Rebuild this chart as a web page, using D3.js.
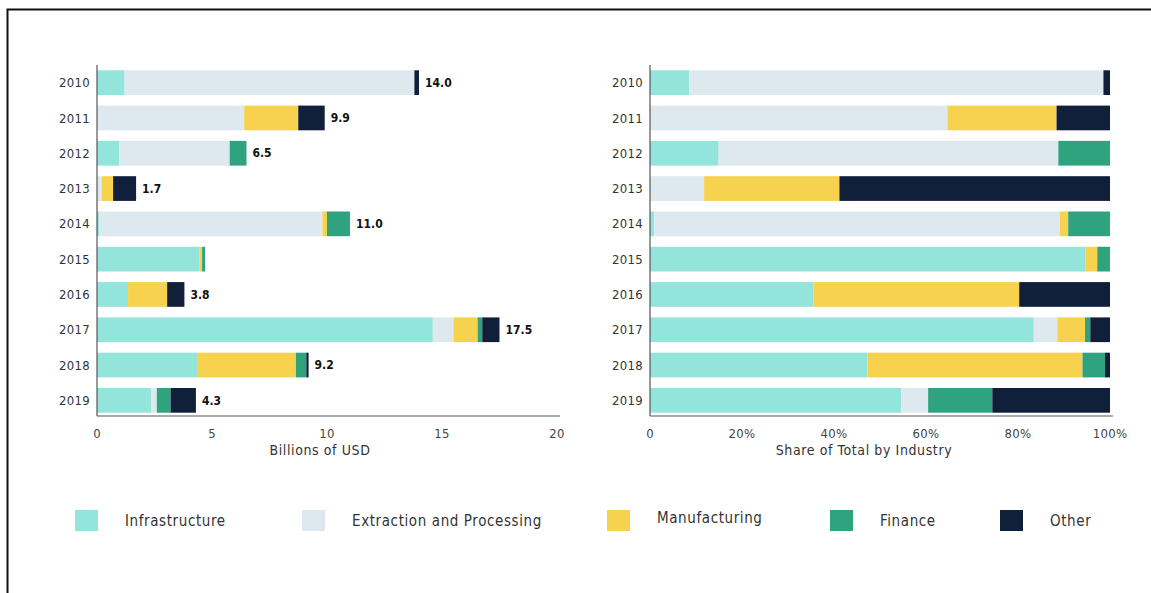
<!DOCTYPE html>
<html>
<head>
<meta charset="utf-8">
<script src="https://cdn.jsdelivr.net/npm/d3@7"></script>
<style>
  body { margin: 0; background: #fff; }
  svg { font-family: "DejaVu Sans Condensed", "DejaVu Sans", sans-serif; }
</style>
</head>
<body>
<svg width="1151" height="593"></svg>
<script>
const years = ['2010','2011','2012','2013','2014','2015','2016','2017','2018','2019'];
const industries = ['Infrastructure','Extraction and Processing','Manufacturing','Finance','Other'];
// billions of USD by industry
const infrastructure = [1.2, 0, 0.97, 0, 0.1, 4.45, 1.35, 14.6, 4.35, 2.35];
const extraction     = [12.6, 6.4, 4.8, 0.2, 9.7, 0, 0, 0.9, 0, 0.25];
const manufacturing  = [0, 2.35, 0, 0.5, 0.2, 0.12, 1.7, 1.05, 4.3, 0];
const finance        = [0, 0, 0.73, 0, 1.0, 0.13, 0, 0.2, 0.45, 0.6];
const other          = [0.2, 1.15, 0, 1.0, 0, 0, 0.75, 0.75, 0.1, 1.1];
const totalLabels    = ['14.0','9.9','6.5','1.7','11.0', null,'3.8','17.5','9.2','4.3'];
const amountTicks = [0, 5, 10, 15, 20];
const shareTicks = [0, 0.2, 0.4, 0.6, 0.8, 1];

const colors = ['#93e4da', '#dde9ee', '#f6d24e', '#2ea37e', '#10203b'];

const svg = d3.select('svg');

// frame
svg.append('path')
  .attr('d', 'M7.5,593 V9.5 H1151')
  .attr('fill', 'none')
  .attr('stroke', '#111')
  .attr('stroke-width', 2);

const series = [infrastructure, extraction, manufacturing, finance, other];
const rows = years.map((y, i) => {
  const r = { year: y };
  industries.forEach((k, j) => r[k] = series[j][i]);
  r.total = d3.sum(series, s => s[i]);
  return r;
});
const shareRows = rows.map(r => {
  const o = { year: r.year };
  industries.forEach(k => o[k] = r[k] / r.total);
  return o;
});

const stack = d3.stack().keys(industries);
const color = d3.scaleOrdinal().domain(industries).range(colors);

const y = d3.scaleBand().domain(years).range([65, 418]).paddingInner(0.3).paddingOuter(0.15);

function drawPanel(data, x, ticks, fmt, title, titleX, labels) {
  const g = svg.append('g');
  g.selectAll('g.layer')
    .data(stack(data))
    .join('g')
      .attr('class', 'layer')
      .attr('fill', d => color(d.key))
    .selectAll('rect')
    .data(d => d)
    .join('rect')
      .attr('x', d => x(d[0]))
      .attr('width', d => Math.max(0, x(d[1]) - x(d[0])))
      .attr('y', d => y(d.data.year))
      .attr('height', y.bandwidth());

  const x0 = x.range()[0];
  g.append('line')
    .attr('x1', x0).attr('x2', x0)
    .attr('y1', 65).attr('y2', 416)
    .attr('stroke', '#555').attr('stroke-width', 1.2);
  g.append('line')
    .attr('x1', x0).attr('x2', x.range()[1] + 3)
    .attr('y1', 416).attr('y2', 416)
    .attr('stroke', '#555').attr('stroke-width', 1.2);

  g.selectAll('text.year')
    .data(years)
    .join('text')
      .attr('class', 'year')
      .attr('x', x0 - 7)
      .attr('y', d => y(d) + y.bandwidth() / 2)
      .attr('dy', '0.35em')
      .attr('text-anchor', 'end')
      .attr('font-size', 13)
      .attr('letter-spacing', 0.3)
      .attr('fill', '#333')
      .text(d => d);

  g.selectAll('text.tick')
    .data(ticks)
    .join('text')
      .attr('class', 'tick')
      .attr('x', d => x(d))
      .attr('y', 438)
      .attr('text-anchor', 'middle')
      .attr('font-size', 13)
      .attr('letter-spacing', 0.3)
      .attr('fill', '#444')
      .text(fmt);

  g.append('text')
    .attr('x', titleX)
    .attr('y', 455)
    .attr('text-anchor', 'middle')
    .attr('font-size', 14)
    .attr('letter-spacing', 0.6)
    .attr('fill', '#333')
    .text(title);

  if (labels) {
    g.selectAll('text.total')
      .data(rows.filter((r, i) => labels[i] !== null))
      .join('text')
        .attr('class', 'total')
        .attr('x', d => x(d.total) + 6)
        .attr('y', d => y(d.year) + y.bandwidth() / 2)
        .attr('dy', '0.35em')
        .attr('font-size', 12)
        .attr('font-weight', 'bold')
        .attr('fill', '#111')
        .text(d => totalLabels[years.indexOf(d.year)]);
  }
}

const xAmount = d3.scaleLinear().domain([0, 20]).range([97, 557]);
const xShare = d3.scaleLinear().domain([0, 1]).range([650, 1110]);

drawPanel(rows, xAmount, amountTicks, d => d, 'Billions of USD', 320, totalLabels);
drawPanel(shareRows, xShare, shareTicks, d => d === 0 ? '0' : d3.format('.0%')(d), 'Share of Total by Industry', 864, null);

// legend
const legendX = [75, 302, 607, 830, 1000];
const legendY = [521, 521, 518, 521, 521];
const legend = svg.append('g');
industries.forEach((k, i) => {
  legend.append('rect')
    .attr('x', legendX[i]).attr('y', 510)
    .attr('width', 23).attr('height', 21)
    .attr('fill', color(k));
  legend.append('text')
    .attr('x', legendX[i] + 50)
    .attr('y', legendY[i])
    .attr('dy', '0.35em')
    .attr('font-size', 15)
    .attr('fill', '#333')
    .attr('letter-spacing', 0.6)
    .text(k);
});
</script>
</body>
</html>
